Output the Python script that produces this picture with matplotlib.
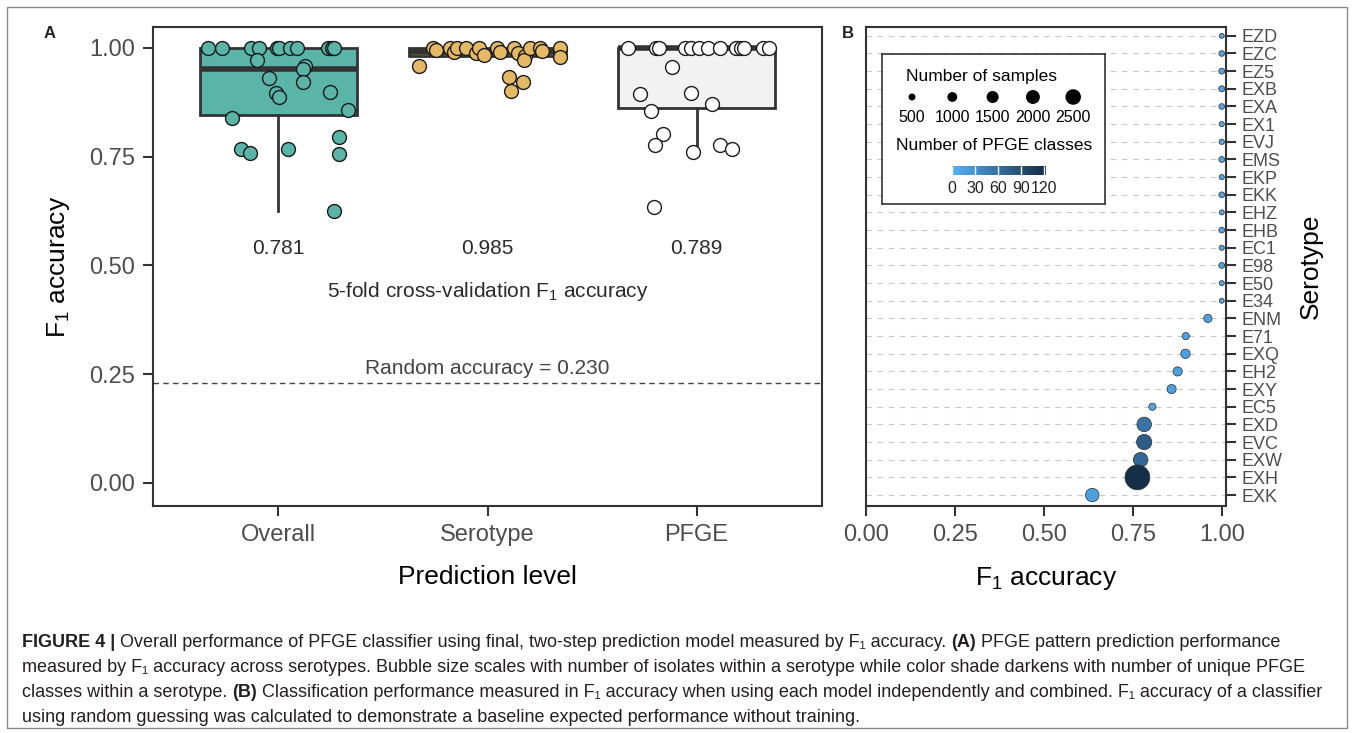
import numpy as np
import matplotlib
matplotlib.use('Agg')
import matplotlib.pyplot as plt
from matplotlib.colors import LinearSegmentedColormap, Normalize
from matplotlib.patches import Rectangle

plt.rcParams['font.family'] = ['Liberation Sans', 'DejaVu Sans']
plt.rcParams['mathtext.fontset'] = 'custom'
plt.rcParams['mathtext.rm'] = 'Liberation Sans'
plt.rcParams['mathtext.it'] = 'Liberation Sans:italic'
plt.rcParams['mathtext.bf'] = 'Liberation Sans:bold'

# ---- panel A: 5-fold CV F1 accuracy per prediction level ----
levels = ['Overall', 'Serotype', 'PFGE']
cv_means = ['0.781', '0.985', '0.789']

overall_f1 = [1.0, 1.0, 1.0, 1.0, 1.0, 1.0, 1.0, 1.0, 1.0, 1.0, 1.0,
              0.972, 0.959, 0.952, 0.931, 0.922, 0.896, 0.887, 0.899, 0.857,
              0.838, 0.795, 0.767, 0.759, 0.768, 0.757, 0.626]
overall_jit = [-0.336, -0.269, -0.129, -0.091, -0.006, 0.005, 0.057, 0.091, 0.239, 0.256, 0.267,
               -0.102, 0.129, 0.118, -0.046, 0.119, -0.014, 0.005, 0.248, 0.334,
               -0.221, 0.288, -0.178, -0.134, 0.046, 0.288, 0.266]

serotype_f1 = [1.0, 0.994, 1.0, 0.990, 1.0, 1.0, 0.988, 1.0, 0.984, 1.0, 0.990, 1.0,
               0.988, 0.982, 0.972, 1.0, 1.0, 0.992, 1.0, 0.978, 0.959, 0.932, 0.921, 0.900]
serotype_jit = [-0.259, -0.248, -0.177, -0.161, -0.145, -0.105, -0.057, -0.042, -0.018, 0.046, 0.062, 0.126,
                0.147, 0.181, 0.173, 0.205, 0.253, 0.261, 0.348, 0.345, -0.328, 0.102, 0.170, 0.111]

pfge_f1 = [1.0, 1.0, 1.0, 1.0, 1.0, 1.0, 1.0, 1.0, 1.0, 1.0, 1.0, 1.0, 1.0,
           0.957, 0.895, 0.896, 0.871, 0.854, 0.801, 0.777, 0.760, 0.776, 0.768, 0.634]
pfge_jit = [-0.328, -0.192, -0.180, -0.057, -0.025, 0.014, 0.057, 0.110, 0.190, 0.213, 0.229, 0.316, 0.348,
            -0.118, -0.272, -0.025, 0.075, -0.220, -0.161, -0.200, -0.018, 0.110, 0.168, -0.204]

# box summary (q1, median, q3, whisker low, whisker high)
box_q1 = [0.846, 0.982, 0.862]
box_med = [0.952, 0.990, 1.0]
box_q3 = [1.0, 1.0, 1.0]
box_lo = [0.625, 0.982, 0.761]
box_hi = [1.0, 1.0, 1.0]

random_acc = 0.230

box_fill = ['#5AB4A8', '#E4B865', '#F2F2F2']
pt_fill = ['#5AB4A8', '#E4B865', '#FFFFFF']

# ---- panel B: F1 per serotype ----
serotypes = ['EZD', 'EZC', 'EZ5', 'EXB', 'EXA', 'EX1', 'EVJ', 'EMS', 'EKP', 'EKK',
             'EHZ', 'EHB', 'EC1', 'E98', 'E50', 'E34', 'ENM', 'E71', 'EXQ', 'EH2',
             'EXY', 'EC5', 'EXD', 'EVC', 'EXW', 'EXH', 'EXK']
sero_f1 = [1.0, 1.0, 1.0, 1.0, 1.0, 1.0, 1.0, 1.0, 1.0, 1.0,
           1.0, 1.0, 1.0, 1.0, 1.0, 1.0, 0.961, 0.899, 0.898, 0.876,
           0.859, 0.805, 0.782, 0.782, 0.772, 0.763, 0.636]
sero_n = [260, 330, 360, 380, 340, 280, 300, 360, 280, 350,
          270, 350, 280, 360, 270, 260, 700, 540, 900, 880,
          880, 540, 2180, 2400, 2180, 6400, 1880]
sero_classes = [10, 12, 12, 14, 12, 10, 10, 12, 10, 12,
                10, 12, 10, 12, 10, 10, 14, 12, 16, 16,
                18, 12, 55, 75, 66, 118, 16]

size_breaks = [500, 1000, 1500, 2000, 2500]
class_breaks = [0, 30, 60, 90, 120]

cmap = LinearSegmentedColormap.from_list('pfge', ['#56B1F7', '#132B43'])
norm = Normalize(vmin=0, vmax=122)
area_per_sample = 0.05

fig = plt.figure(figsize=(13.57, 7.33), dpi=100)
W, H = 1357, 733

def fx(px):
    return px / W

def fy(py):
    return 1 - py / H

# outer frame
fig.patches.append(Rectangle((fx(7), fy(728)), fx(1347) - fx(7), fy(7) - fy(728),
                             transform=fig.transFigure, fill=False, ec='#8a8a8a', lw=1.0))

dark = '#333333'
tick_gray = '#4D4D4D'

# ---------------- panel A ----------------
axa = fig.add_axes([fx(153), fy(506), fx(822) - fx(153), fy(27) - fy(506)])
stats = []
for i in range(3):
    stats.append(dict(med=box_med[i], q1=box_q1[i], q3=box_q3[i],
                      whislo=box_lo[i], whishi=box_hi[i], fliers=[]))
bp = axa.bxp(stats, positions=[1, 2, 3], widths=0.75, patch_artist=True,
             showfliers=False, showcaps=False,
             boxprops=dict(edgecolor=dark, linewidth=2.0),
             whiskerprops=dict(color=dark, linewidth=2.0),
             medianprops=dict(color=dark, linewidth=4.0, solid_capstyle='butt'))
for patch, c in zip(bp['boxes'], box_fill):
    patch.set_facecolor(c)

groups = [(overall_jit, overall_f1), (serotype_jit, serotype_f1), (pfge_jit, pfge_f1)]
for i, (jit, f1) in enumerate(groups):
    axa.scatter(np.array(jit) + i + 1, f1, s=100, c=pt_fill[i], edgecolors='#1a1a1a',
                linewidths=1.0, zorder=4)

axa.axhline(random_acc, color='#444444', lw=1.0, dashes=(4, 3), zorder=1)
for i, t in enumerate(cv_means):
    axa.text(i + 1, 0.540, t, ha='center', va='center', fontsize=15, color='#2a2a2a')
axa.text(2, 0.439, '5-fold cross-validation F$_1$ accuracy', ha='center', va='center',
         fontsize=15, color='#2a2a2a')
axa.text(2, 0.264, 'Random accuracy = %.3f' % random_acc, ha='center', va='center',
         fontsize=15, color='#444444')

axa.set_xlim(0.4, 3.6)
axa.set_ylim(-0.053, 1.048)
axa.set_xticks([1, 2, 3])
axa.set_xticklabels(levels)
axa.set_yticks([0, 0.25, 0.5, 0.75, 1.0])
axa.set_yticklabels(['0.00', '0.25', '0.50', '0.75', '1.00'])
axa.tick_params(length=7, width=1.5, color=dark, labelsize=17, labelcolor=tick_gray, pad=6)
axa.set_xlabel('Prediction level', fontsize=19, labelpad=14)
axa.set_ylabel('F$_1$ accuracy', fontsize=19, labelpad=12)
for s in axa.spines.values():
    s.set_color(dark)
    s.set_linewidth(1.5)

# ---------------- panel B ----------------
axb = fig.add_axes([fx(866), fy(506), fx(1226) - fx(866), fy(27) - fy(506)])
ypos = np.arange(len(serotypes))[::-1]
axb.scatter(sero_f1, ypos, s=np.array(sero_n) * area_per_sample, c=sero_classes,
            cmap=cmap, norm=norm, edgecolors='#2a2a2a', linewidths=0.5, zorder=3)
axb.set_yticks(ypos)
axb.set_yticklabels(serotypes)
axb.yaxis.tick_right()
axb.yaxis.set_label_position('right')
axb.grid(axis='y', color='#c8c8c8', lw=0.8, dashes=(5, 5))
axb.set_axisbelow(True)
axb.set_xlim(0, 1.012)
axb.set_ylim(-0.62, 26.5)
axb.set_xticks([0, 0.25, 0.5, 0.75, 1.0])
axb.set_xticklabels(['0.00', '0.25', '0.50', '0.75', '1.00'])
axb.tick_params(axis='x', length=7, width=1.5, color=dark, labelsize=17, labelcolor=tick_gray, pad=6)
axb.tick_params(axis='y', length=7, width=1.5, color=dark, labelsize=13, labelcolor=tick_gray, pad=4)
axb.set_xlabel('F$_1$ accuracy', fontsize=19, labelpad=14)
axb.set_ylabel('Serotype', fontsize=19, labelpad=12)
for s in axb.spines.values():
    s.set_color(dark)
    s.set_linewidth(1.5)

# legend box
axl = fig.add_axes([fx(882), fy(204), fx(1105) - fx(882), fy(54) - fy(204)])
axl.set_xlim(0, 223)
axl.set_ylim(150, 0)
axl.set_xticks([])
axl.set_yticks([])
for s in axl.spines.values():
    s.set_color(dark)
    s.set_linewidth(1.2)
axl.text(100, 22, 'Number of samples', ha='center', va='center', fontsize=12.5)
key_x = 30 + 40.3 * np.arange(len(size_breaks))
axl.scatter(key_x, np.full(len(size_breaks), 43), s=np.array(size_breaks) * area_per_sample,
            c='black', edgecolors='none')
for kx, b in zip(key_x, size_breaks):
    axl.text(kx, 63, str(b), ha='center', va='center', fontsize=11.5)
axl.text(112, 92, 'Number of PFGE classes', ha='center', va='center', fontsize=12.5)

cax = fig.add_axes([fx(952), fy(175), fx(1046) - fx(952), fy(166) - fy(175)])
sm = plt.cm.ScalarMappable(norm=norm, cmap=cmap)
cb = fig.colorbar(sm, cax=cax, orientation='horizontal', ticks=class_breaks)
cb.outline.set_visible(False)
cax.tick_params(axis='x', direction='in', length=6.5, width=1, color='white',
                labelsize=11.5, labelcolor='#222222', pad=4)

# panel letters
fig.text(fx(50), fy(34), 'A', fontsize=12, fontweight='bold', ha='center', va='center', color='#222')
fig.text(fx(848), fy(34), 'B', fontsize=12, fontweight='bold', ha='center', va='center', color='#222')

# caption
renderer = fig.canvas.get_renderer()
cap_size = 13

def text_width(s, weight):
    t = fig.text(0, 0, s, fontsize=cap_size, fontweight=weight)
    w = t.get_window_extent(renderer=renderer).width
    t.remove()
    return w

space_w = text_width('a a', 'normal') - text_width('aa', 'normal')

def caption_line(ypx, runs):
    x = 22
    for s, w in runs:
        if s == ' ':
            x += space_w
            continue
        fig.text(fx(x), fy(ypx), s, fontsize=cap_size, fontweight=w, ha='left', va='baseline',
                 color='#231F20')
        x += text_width(s, w)

sp = (' ', 'normal')
caption_line(647, [('FIGURE 4 |', 'bold'), sp,
                   ('Overall performance of PFGE classifier using final, two-step prediction model measured by F\u2081 accuracy.', 'normal'), sp,
                   ('(A)', 'bold'), sp, ('PFGE pattern prediction performance', 'normal')])
caption_line(672, [('measured by F\u2081 accuracy across serotypes. Bubble size scales with number of isolates within a serotype while color shade darkens with number of unique PFGE', 'normal')])
caption_line(697, [('classes within a serotype.', 'normal'), sp, ('(B)', 'bold'), sp,
                   ('Classification performance measured in F\u2081 accuracy when using each model independently and combined. F\u2081 accuracy of a classifier', 'normal')])
caption_line(722, [('using random guessing was calculated to demonstrate a baseline expected performance without training.', 'normal')])

fig.savefig('out.png', dpi=100)
